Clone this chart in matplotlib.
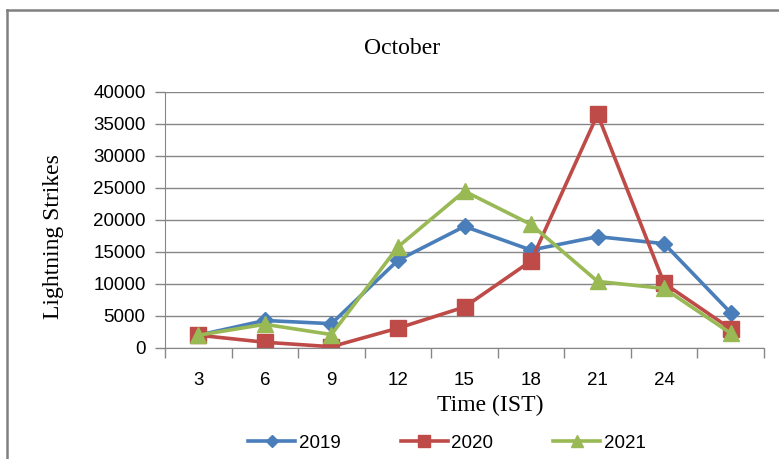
import matplotlib.pyplot as plt
import numpy as np
from matplotlib.lines import Line2D

# Lightning strikes per 3-hour slot, October
hours = ['3', '6', '9', '12', '15', '18', '21', '24', '']
y2019 = [2000, 4300, 3800, 13700, 19000, 15300, 17400, 16300, 5500]
y2020 = [2000, 900, 200, 3100, 6400, 13600, 36500, 10100, 3000]
y2021 = [2000, 3700, 2100, 15800, 24500, 19300, 10400, 9300, 2300]

serif = 'Liberation Serif'
sans = 'Liberation Sans'
grey = '#868686'

fig = plt.figure(figsize=(7.79, 4.59), dpi=100)
ax = fig.add_axes([165/779, 1-348/459, (764-165)/779, (348-92)/459])

x = np.arange(len(hours)) + 0.5
ax.plot(x, y2019, color='#4A7EBB', lw=2.6, marker='D', ms=8, label='2019')
ax.plot(x, y2020, color='#BE4B48', lw=2.6, marker='s', ms=11, label='2020')
ax.plot(x, y2021, color='#98B954', lw=2.6, marker='^', ms=11, label='2021')

ax.set_xlim(0, len(hours))
ax.set_ylim(0, 40000)
ax.set_yticks(np.arange(0, 40001, 5000))
ax.yaxis.grid(True, color=grey, lw=1)
ax.set_axisbelow(True)

# excel style: tick marks between categories, labels in the middle
ax.set_xticks(np.arange(len(hours) + 1))
ax.set_xticklabels([])
ax.set_xticks(x, minor=True)
ax.set_xticklabels(hours, minor=True, fontfamily=sans, fontsize=13.5)
ax.tick_params(axis='x', which='major', length=7, color=grey, width=1)
ax.tick_params(axis='x', which='minor', length=0, pad=17)
ax.tick_params(axis='y', length=7, color=grey, width=1, pad=7)
for t in ax.get_yticklabels():
    t.set_fontfamily(sans)
    t.set_fontsize(13.5)

for s in ['top', 'right']:
    ax.spines[s].set_visible(False)
for s in ['left', 'bottom']:
    ax.spines[s].set_color(grey)

fig.text(402/779, 1-48/459, 'October', ha='center', va='center', fontfamily=serif, fontsize=17)
fig.text(490/779, 1-405/459, 'Time (IST)', ha='center', va='center', fontfamily=serif, fontsize=17)
fig.text(53/779, 1-237/459, 'Lightning Strikes', ha='center', va='center', rotation=90,
         fontfamily=serif, fontsize=17)

leg = fig.legend(loc='center', bbox_to_anchor=(447/779, 1-443/459), ncol=3, frameon=False,
                 prop={'family': sans, 'size': 13.5}, handlelength=2.5, handletextpad=0.2,
                 columnspacing=3.2, markerscale=0.8)

# outer chart border
fig.add_artist(Line2D([7/779, 1], [1-10/459, 1-10/459], color='#808080', lw=1.8))
fig.add_artist(Line2D([7/779, 7/779], [0, 1-10/459], color='#808080', lw=1.8))

fig.savefig('out.png', dpi=100)
